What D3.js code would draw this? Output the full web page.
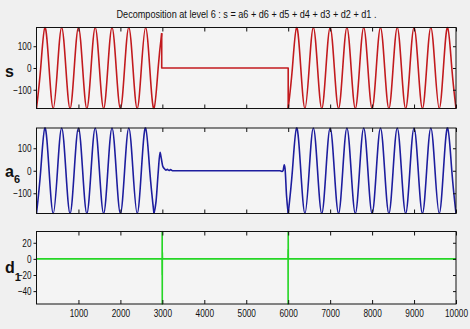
<!DOCTYPE html>
<html>
<head>
<meta charset="utf-8">
<script src="https://cdn.jsdelivr.net/npm/d3@7"></script>
<style>
  html, body { margin: 0; padding: 0; background: #f0f0f0; }
  svg { display: block; }
  .tick text, .title { font-family: "Liberation Sans", Arial, sans-serif; fill: #111; }
  .ylab { font-family: "Liberation Sans", Arial, sans-serif; font-weight: bold; fill: #111; }
</style>
</head>
<body>
<svg id="chart" width="470" height="329"></svg>
<script>
// ---- data -------------------------------------------------------------
const titleText = "Decomposition at level 6 : s = a6 + d6 + d5 + d4 + d3 + d2 + d1 .";
const xTicks = [1000, 2000, 3000, 4000, 5000, 6000, 7000, 8000, 9000, 10000];
const xDomain = [0, 10000];
const sampleStep = 100;   // spacing of the tabulated sine samples

// s : sine, silent gap, sine again
const sLead = [-186,0,186,0, -186,0,186,0, -186,0,186,0, -186,0,186,0,
               -186,0,186,0, -186,0,186,0, -186,0,186,0, -186,0];        // t = 0 … 2900
const sCutTime = 2985, sCutValue = 160;
const sGapEnd = 6000;
const sTail = [-186,0,186,0, -186,0,186,0, -186,0,186,0, -186,0,186,0, -186,0,186,0,
               -186,0,186,0, -186,0,186,0, -186,0,186,0, -186,0,186,0, -186,0,186,0, -186]; // t = 6000 … 10000

// a6 : approximation, smooth ringing at both edges of the gap
const a6Lead = [-190,0,190,0, -190,0,190,0, -190,0,190,0, -190,0,190,0,
                -190,0,190,0, -190,0,190,0, -190,0,190,0, -190];          // t = 0 … 2800
const a6EdgeTimes  = [2800, 2850, 2900, 2945, 2975, 3010, 3045, 3085, 3120, 3160, 3195, 3240,
                      5800, 5850, 5880, 5905, 5925, 5960, 6000];
const a6EdgeValues = [-190, -136, -10, 82, 55, 20, 10, 3, 6, 1, 5, 0,
                      0, -3, 2, 27, 10, -110, -190];
const a6TailStart = 6000;
const a6Tail = [-190,0,190,0, -190,0,190,0, -190,0,190,0, -190,0,190,0, -190,0,190,0,
                -190,0,190,0, -190,0,190,0, -190,0,190,0, -190,0,190,0, -190,0,190,0, -190];

// d1 : detail level 1, spikes at the two breaks
const d1Times  = [0, 2992, 2994, 2996, 2998, 3000, 3003, 5994, 5996, 5998, 6000, 6003, 10000];
const d1Values = [0, 0, -20, 34, -56, 8, 0, 0, 12, -56, 34, 0, 0];

const yTicksS  = [-100, 0, 100];
const yTicksA6 = [-100, 0, 100];
const yTicksD1 = [-40, -20, 0, 20];

// ---- layout -----------------------------------------------------------
const svg = d3.select("#chart");
const left = 36.5, right = 456;
const panels = [
  { top: 27.5, bottom: 108.5, color: "#c21a1e", ticks: yTicksS,  name: "s", sub: null, base: 77,  subDy: 0 },
  { top: 128,  bottom: 213.5, color: "#1d1d9e", ticks: yTicksA6, name: "a", sub: "6",  base: 177, subDy: 6 },
  { top: 231.5, bottom: 304,  color: "#26d626", ticks: yTicksD1, name: "d", sub: "1",  base: 273, subDy: 8 }
];

// condensed look for labels: squeeze each string to a narrow advance
const narrowWidth = s => Array.from(s).reduce((w, c) => w + (c === "-" ? 3.2 : 4.6), 0);

const x = d3.scaleLinear().domain(xDomain).range([left, right]);

const pts = (times, values) => times.map((t, i) => [t, values[i]]);
const uniform = (start, values) => pts(values.map((_, i) => start + i * sampleStep), values);

const sPieces = [
  { curve: d3.curveNatural, data: uniform(0, sLead).concat([[sCutTime, sCutValue]]) },
  { curve: d3.curveLinear,  data: [[sCutTime, sCutValue], [sCutTime, 0], [sGapEnd, 0], [sGapEnd, sTail[0]]] },
  { curve: d3.curveNatural, data: uniform(sGapEnd, sTail) }
];
const a6Pieces = [
  { curve: d3.curveNatural,   data: uniform(0, a6Lead) },
  { curve: d3.curveMonotoneX, data: pts(a6EdgeTimes, a6EdgeValues) },
  { curve: d3.curveNatural,   data: uniform(a6TailStart, a6Tail) }
];
const d1Pieces = [
  { curve: d3.curveLinear, data: pts(d1Times, d1Values) }
];
const allPieces = [sPieces, a6Pieces, d1Pieces];

// title
svg.append("text").attr("class", "title")
  .attr("x", 246.5).attr("y", 18)
  .attr("text-anchor", "middle")
  .attr("font-size", 11)
  .attr("textLength", 260).attr("lengthAdjust", "spacingAndGlyphs")
  .text(titleText);

panels.forEach((p, k) => {
  const pieces = allPieces[k];
  const vals = pieces.flatMap(pc => pc.data.map(d => d[1]));
  const y = d3.scaleLinear().domain(d3.extent(vals)).range([p.bottom, p.top]);

  const g = svg.append("g");
  g.append("rect")
    .attr("x", left).attr("y", p.top)
    .attr("width", right - left).attr("height", p.bottom - p.top)
    .attr("fill", "#f4f4f4");

  const clipId = "clip" + k;
  svg.append("clipPath").attr("id", clipId)
    .append("rect")
    .attr("x", left).attr("y", p.top - 1)
    .attr("width", right - left).attr("height", p.bottom - p.top + 2);

  const plot = g.append("g").attr("clip-path", `url(#${clipId})`);
  pieces.forEach(pc => {
    const line = d3.line().x(d => x(d[0])).y(d => y(d[1])).curve(pc.curve);
    plot.append("path")
      .attr("d", line(pc.data))
      .attr("fill", "none")
      .attr("stroke", p.color)
      .attr("stroke-width", 1.6)
      .attr("stroke-linejoin", "round");
  });

  // axes (inward ticks, MATLAB style)
  const bottomAxis = d3.axisBottom(x).tickValues(xTicks).tickSizeInner(-4).tickSizeOuter(0)
    .tickPadding(5).tickFormat(d3.format("d"));
  if (k < 2) bottomAxis.tickFormat("");
  const gb = g.append("g").attr("transform", `translate(0,${p.bottom})`).call(bottomAxis);
  const gt = g.append("g").attr("transform", `translate(0,${p.top})`)
    .call(d3.axisTop(x).tickValues(xTicks).tickSizeInner(-4).tickSizeOuter(0).tickFormat(""));
  const gl = g.append("g").attr("transform", `translate(${left},0)`)
    .call(d3.axisLeft(y).tickValues(p.ticks).tickSizeInner(3).tickSizeOuter(0).tickPadding(2)
      .tickFormat(d3.format("d")));
  const gr = g.append("g").attr("transform", `translate(${right},0)`)
    .call(d3.axisRight(y).tickValues(p.ticks).tickSizeInner(-3).tickSizeOuter(0).tickFormat(""));
  [gb, gt, gl, gr].forEach(a => {
    a.select(".domain").remove();
    a.selectAll(".tick line").attr("stroke", "#111");
    a.selectAll(".tick text")
      .attr("font-size", 11).attr("font-family", null)
      .each(function () {
        const t = d3.select(this).text();
        if (t) d3.select(this).attr("textLength", narrowWidth(t)).attr("lengthAdjust", "spacingAndGlyphs");
      });
  });

  g.append("rect")
    .attr("x", left).attr("y", p.top)
    .attr("width", right - left).attr("height", p.bottom - p.top)
    .attr("fill", "none").attr("stroke", "#111").attr("stroke-width", 1);

  // panel name with subscript level
  const lab = svg.append("text").attr("class", "ylab")
    .attr("x", 5).attr("y", p.base).attr("font-size", 16);
  lab.append("tspan").text(p.name);
  if (p.sub) lab.append("tspan").attr("dy", p.subDy).attr("font-size", 11).text(p.sub);
});
</script>
</body>
</html>
